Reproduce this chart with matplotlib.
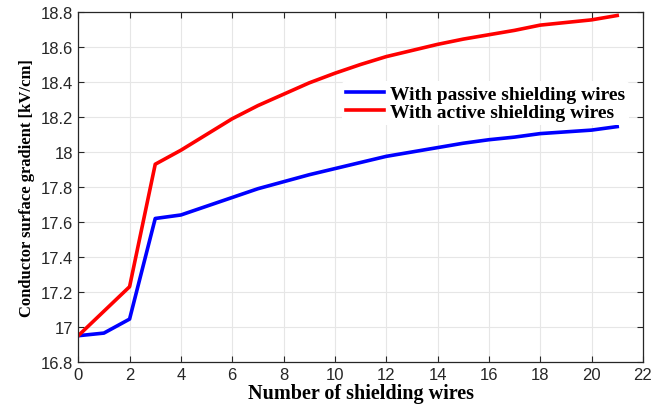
import numpy as np
import matplotlib.pyplot as plt

# number of shielding wires
n_wires = list(range(0, 22))

# conductor surface gradient [kV/cm]
passive = [16.95, 16.965, 17.045, 17.62, 17.64, 17.69, 17.74, 17.79, 17.83, 17.87, 17.905,
           17.94, 17.975, 18.0, 18.025, 18.05, 18.07, 18.085, 18.105, 18.115, 18.125, 18.145]
active = [16.95, 17.09, 17.23, 17.93, 18.01, 18.10, 18.19, 18.265, 18.33, 18.395, 18.45,
          18.50, 18.545, 18.58, 18.615, 18.645, 18.67, 18.695, 18.725, 18.74, 18.755, 18.78]

x_ticks = list(range(0, 23, 2))
y_ticks = [16.8, 17, 17.2, 17.4, 17.6, 17.8, 18, 18.2, 18.4, 18.6, 18.8]
y_tick_labels = ['16.8', '17', '17.2', '17.4', '17.6', '17.8', '18', '18.2', '18.4', '18.6', '18.8']

fig = plt.figure(figsize=(6.52, 4.06), dpi=100)
ax = fig.add_axes([0.12, 0.106, 0.866, 0.862])

ax.plot(n_wires, passive, color='#0000ff', linewidth=2.6, label='With passive shielding wires')
ax.plot(n_wires, active, color='#ff0000', linewidth=2.6, label='With active shielding wires')

ax.set_xlim(0, 22)
ax.set_ylim(16.8, 18.8)
ax.set_xticks(x_ticks)
ax.set_yticks(y_ticks)
ax.set_yticklabels(y_tick_labels)

for lbl in ax.get_xticklabels() + ax.get_yticklabels():
    lbl.set_fontfamily('Liberation Sans')
    lbl.set_fontsize(12)

ax.tick_params(direction='in', top=True, right=True, length=4, width=0.8, colors='#262626')
ax.grid(True, color='#e6e6e6', linewidth=0.8)
ax.set_axisbelow(True)
for s in ax.spines.values():
    s.set_color('#262626')
    s.set_linewidth(0.9)

ax.set_xlabel('Number of shielding wires', fontfamily='Liberation Serif',
              fontweight='bold', fontsize=14.5, labelpad=1)
ax.set_ylabel('Conductor surface gradient [kV/cm]', fontfamily='Liberation Serif',
              fontweight='bold', fontsize=12, labelpad=4)

leg = ax.legend(loc='upper left', bbox_to_anchor=(0.45, 0.83), frameon=True,
                prop={'family': 'Liberation Serif', 'weight': 'bold', 'size': 14},
                handlelength=1.95, borderpad=0.2, labelspacing=0.05, handletextpad=0.3)
leg.get_frame().set_edgecolor('none')
leg.get_frame().set_facecolor('white')
leg.get_frame().set_alpha(1)

plt.savefig('out.png', dpi=100)
